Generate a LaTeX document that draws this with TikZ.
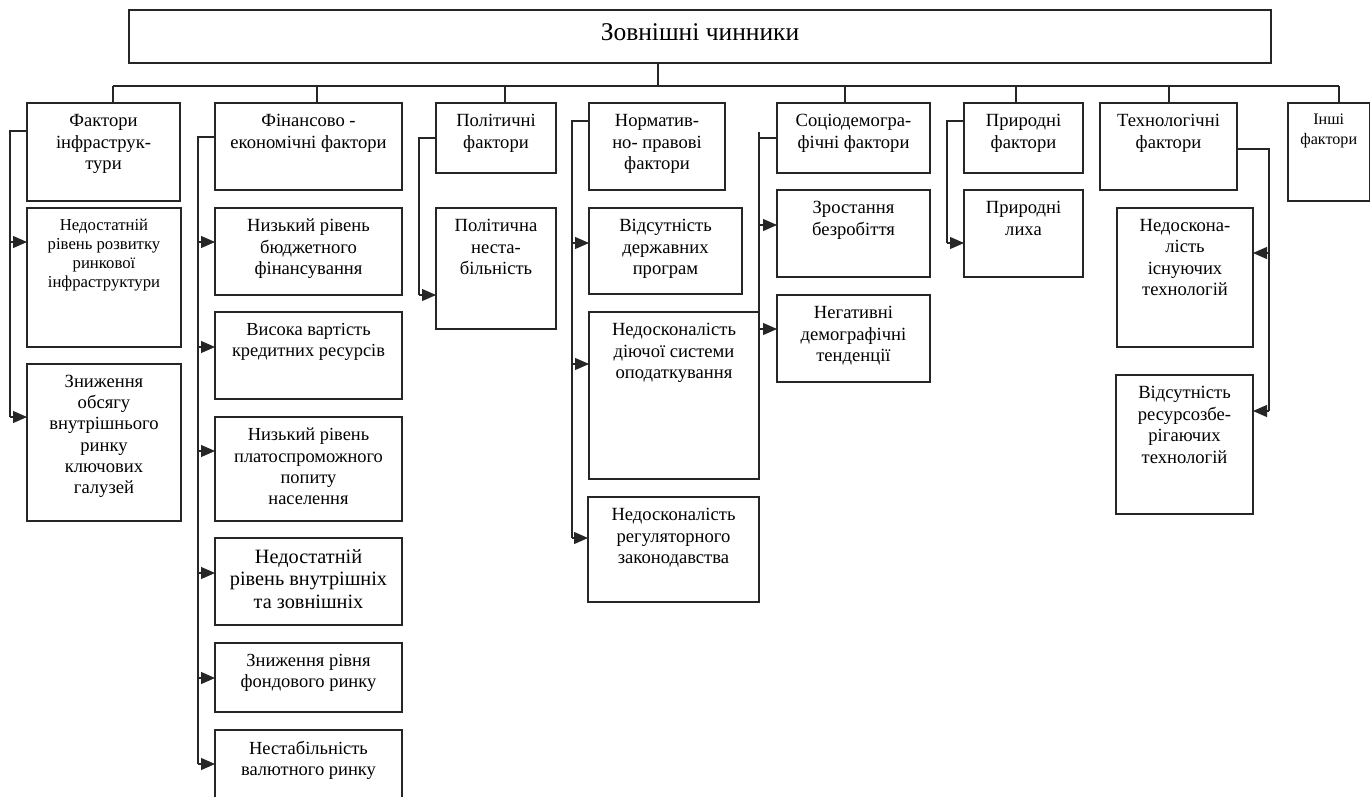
\documentclass[tikz,border=0pt]{standalone}
\usepackage{fontspec}
\setmainfont{Liberation Serif}
\usetikzlibrary{arrows.meta,fit}
\newcommand\fs[2]{\fontsize{#1}{#2}\selectfont}
\newcommand\mkbox[7]{%
  \node[boxst,fit={(#2,#3)(#4,#5)}] (#1) {};
  \node[txt,font=#6] (#1t) at ([yshift=-11pt]#1.north) {#7};
}
\begin{document}
\begin{tikzpicture}[x=1pt,y=-1pt,
  boxst/.style={draw=black!85,line width=1.3pt,inner sep=0pt,outer sep=0pt},
  txt/.style={align=center,inner sep=0pt,anchor=north,text=black},
  conn/.style={draw=black!85,line width=1.1pt},
  arr/.style={conn,-{Triangle[length=14pt,width=12pt]}}]
\useasboundingbox[fill=white] (0,0) rectangle (1370,796);

% top
\node[boxst,fit={(129,10)(1271,63)}] (T) {};
\node[anchor=base,inner sep=0pt,font=\fs{25.5}{30},text=black] (title) at ([yshift=-4.2pt]T.center) {Зовнішні чинники};

% first level
\mkbox{f1}{27}{103}{180}{201}{\fs{18.6}{21.7}}{Фактори\\інфраструк-\\тури}
\mkbox{f2}{215}{103}{402}{190}{\fs{18.6}{21.7}}{Фінансово -\\економічні фактори}
\mkbox{f3}{436}{103}{556}{173}{\fs{18.6}{21.7}}{Політичні\\фактори}
\mkbox{f4}{589}{103}{725}{190}{\fs{18.6}{21.7}}{Норматив-\\но- правові\\фактори}
\mkbox{f5}{777}{103}{930}{173}{\fs{18.6}{21.7}}{Соціодемогра-\\фічні фактори}
\mkbox{f6}{964}{103}{1083}{173}{\fs{18.6}{21.7}}{Природні\\фактори}
\mkbox{f7}{1100}{103}{1237}{190}{\fs{18.6}{21.7}}{Технологічні\\фактори}
\mkbox{f8}{1288}{103}{1369.5}{201}{\fs{16.1}{19.5}}{Інші\\фактори}

% children
\mkbox{c11}{27}{208}{181}{347}{\fs{16.7}{19}}{Недостатній\\рівень розвитку\\ринкової\\інфраструктури}
\mkbox{c12}{27}{364}{181}{521}{\fs{18.6}{21.2}}{Зниження\\обсягу\\внутрішнього\\ринку\\ключових\\галузей}

\mkbox{c21}{215}{208}{402}{295}{\fs{18.6}{21.3}}{Низький рівень\\бюджетного\\фінансування}
\mkbox{c22}{215}{312}{402}{399}{\fs{18.4}{21.5}}{Висока вартість\\кредитних ресурсів}
\mkbox{c23}{215}{417}{402}{521}{\fs{18.4}{21.3}}{Низький рівень\\платоспроможного\\попиту\\населення}
\mkbox{c24}{215}{538}{402}{625}{\fs{20.3}{22.5}}{Недостатній\\рівень внутрішніх\\та зовнішніх}
\mkbox{c25}{215}{643}{402}{712}{\fs{18.5}{21.5}}{Зниження рівня\\фондового ринку}
\mkbox{c26}{215}{730}{402}{805}{\fs{18.5}{21.5}}{Нестабільність\\валютного ринку}

\mkbox{c31}{436}{208}{556}{329}{\fs{18.6}{21.5}}{Політична\\неста-\\більність}

\mkbox{c41}{589}{208}{742}{294}{\fs{18.6}{21.5}}{Відсутність\\державних\\програм}
\mkbox{c42}{589}{312}{759}{479}{\fs{18.6}{21.5}}{Недосконалість\\діючої системи\\оподаткування}
\mkbox{c43}{588}{497}{759}{602}{\fs{18.6}{21.5}}{Недосконалість\\регуляторного\\законодавства}

\mkbox{c51}{777}{190}{930}{277}{\fs{18.6}{21.5}}{Зростання\\безробіття}
\mkbox{c52}{777}{295}{930}{382}{\fs{18.6}{21.5}}{Негативні\\демографічні\\тенденції}

\mkbox{c61}{964}{190}{1083}{277}{\fs{18.6}{21.5}}{Природні\\лиха}

\mkbox{c71}{1117}{208}{1253}{347}{\fs{18.6}{21.5}}{Недоскона-\\лість\\існуючих\\технологій}
\mkbox{c72}{1116}{375}{1253}{514}{\fs{18.6}{21.5}}{Відсутність\\ресурсозбе-\\рігаючих\\технологій}

% bus
\coordinate (busL) at (113,86);
\coordinate (busR) at (1339,86);
\draw[conn] (658,86 |- T.south) -- (658,86);
\draw[conn] (busL) -- (busR);
\draw[conn] (113,86) -- (113,86 |- f1.north);
\draw[conn] (317,86) -- (317,86 |- f2.north);
\draw[conn] (505,86) -- (505,86 |- f3.north);
\draw[conn] (845,86) -- (845,86 |- f5.north);
\draw[conn] (1016,86) -- (1016,86 |- f6.north);
\draw[conn] (1169,86) -- (1169,86 |- f7.north);
\draw[conn] (1339,86) -- (1339,86 |- f8.north);

% column 1
\draw[conn] (f1.west |- 0,131) -- (10,131) -- (10,417);
\draw[arr] (10,242) -- (c11.west |- 0,242);
\draw[arr] (10,417) -- (c12.west |- 0,417);

% column 2
\draw[conn] (f2.west |- 0,137) -- (198,137) -- (198,764);
\draw[arr] (198,242) -- (c21.west |- 0,242);
\draw[arr] (198,347) -- (c22.west |- 0,347);
\draw[arr] (198,451) -- (c23.west |- 0,451);
\draw[arr] (198,573) -- (c24.west |- 0,573);
\draw[arr] (198,678) -- (c25.west |- 0,678);
\draw[arr] (198,764) -- (c26.west |- 0,764);

% column 3
\draw[conn] (f3.west |- 0,138) -- (419,138) -- (419,295);
\draw[arr] (419,295) -- (c31.west |- 0,295);

% column 4
\draw[conn] (f4.west |- 0,121) -- (572,121) -- (572,538);
\draw[arr] (572,243) -- (c41.west |- 0,243);
\draw[arr] (572,364) -- (c42.west |- 0,364);
\draw[arr] (572,538) -- (c43.west |- 0,538);

% column 5
\draw[conn] (759,132) -- (759,329);
\draw[conn] (759,138) -- (f5.west |- 0,138);
\draw[arr] (759,225) -- (c51.west |- 0,225);
\draw[arr] (759,329) -- (c52.west |- 0,329);

% column 6
\draw[conn] (f6.west |- 0,121) -- (947,121) -- (947,243);
\draw[arr] (947,243) -- (c61.west |- 0,243);

% column 7
\draw[conn] (f7.east |- 0,149) -- (1269,149) -- (1269,411);
\draw[arr] (1269,253) -- (c71.east |- 0,253);
\draw[arr] (1269,411) -- (c72.east |- 0,411);
\end{tikzpicture}
\end{document}
